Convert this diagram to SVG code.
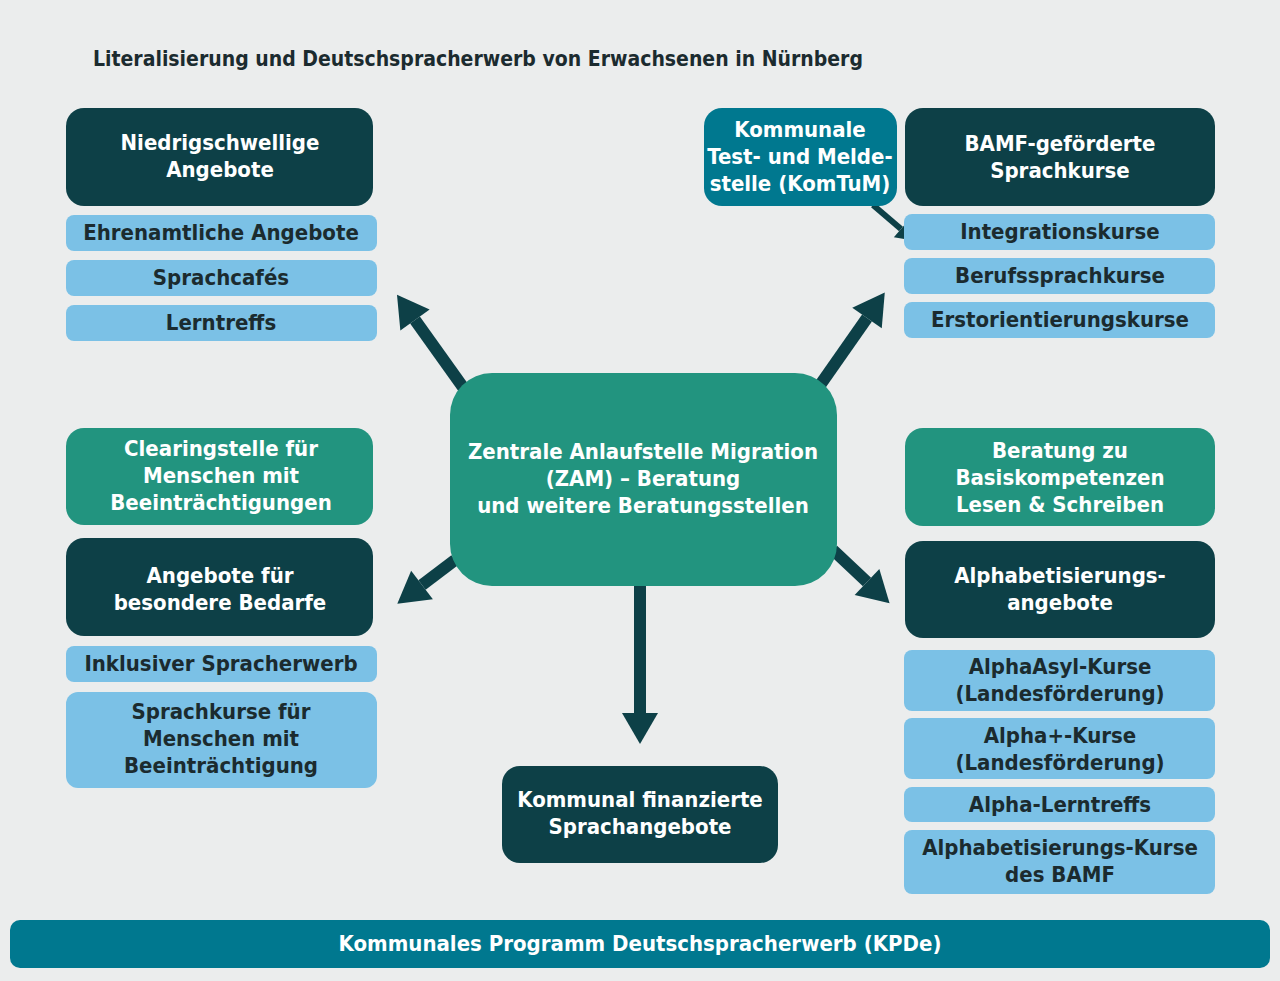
<svg xmlns="http://www.w3.org/2000/svg" width="1280" height="981" viewBox="0 0 1280 981">
<defs>
<marker id="ah" markerUnits="userSpaceOnUse" markerWidth="40" markerHeight="40" viewBox="0 -20 32 40" refX="0" refY="0" orient="auto"><path d="M0,-18 L31,0 L0,18 z" fill="#0d4047"/></marker>
<marker id="ahs" markerUnits="userSpaceOnUse" markerWidth="24" markerHeight="24" viewBox="0 -12 20 24" refX="0" refY="0" orient="auto"><path d="M0,-11 L18,0 L0,11 z" fill="#0d4047"/></marker>
</defs>
<style>
text{font-family:"DejaVu Sans Condensed","Liberation Sans",sans-serif;font-weight:bold;font-size:22px;text-anchor:middle;font-stretch:condensed}
.w{fill:#fff}.d{fill:#1b2b2f}
.dk{fill:#0d4047}.lb{fill:#7bc1e6}.gr{fill:#22947f}.tb{fill:#00788f}
.ar{stroke:#0d4047;stroke-width:12;fill:none}
</style>
<rect width="1280" height="981" fill="#ebeded"/>
<text x="93" y="66" class="d" style="text-anchor:start;font-size:21px">Literalisierung und Deutschspracherwerb von Erwachsenen in Nürnberg</text>
<g id="connectors">
<line class="ar" x1="465" y1="390" x2="415" y2="320" marker-end="url(#ah)"/>
<line class="ar" x1="818" y1="388" x2="867" y2="318" marker-end="url(#ah)"/>
<line class="ar" x1="455" y1="560" x2="422" y2="585" marker-end="url(#ah)"/>
<line class="ar" x1="833" y1="550" x2="867" y2="582" marker-end="url(#ah)"/>
<line class="ar" x1="640" y1="586" x2="640" y2="713" marker-end="url(#ah)"/>
<line class="ar" style="stroke-width:6" x1="873" y1="205" x2="901" y2="229" marker-end="url(#ahs)"/>
</g>
<g id="n1"><rect class="dk" x="66" y="108" width="307" height="98" rx="18"/><text class="w" x="220" y="150">Niedrigschwellige</text><text class="w" x="220" y="177">Angebote</text></g>
<g id="n2"><rect class="lb" x="66" y="215" width="311" height="36" rx="8"/><text class="d" x="221" y="240">Ehrenamtliche Angebote</text></g>
<g id="n3"><rect class="lb" x="66" y="260" width="311" height="36" rx="8"/><text class="d" x="221" y="285">Sprachcafés</text></g>
<g id="n4"><rect class="lb" x="66" y="305" width="311" height="36" rx="8"/><text class="d" x="221" y="330">Lerntreffs</text></g>
<g id="n5"><rect class="gr" x="66" y="428" width="307" height="97" rx="18"/><text class="w" x="221" y="456">Clearingstelle für</text><text class="w" x="221" y="483">Menschen mit</text><text class="w" x="221" y="510">Beeinträchtigungen</text></g>
<g id="n6"><rect class="dk" x="66" y="538" width="307" height="98" rx="18"/><text class="w" x="220" y="583">Angebote für</text><text class="w" x="220" y="610">besondere Bedarfe</text></g>
<g id="n7"><rect class="lb" x="66" y="646" width="311" height="36" rx="8"/><text class="d" x="221" y="671">Inklusiver Spracherwerb</text></g>
<g id="n8"><rect class="lb" x="66" y="692" width="311" height="96" rx="12"/><text class="d" x="221" y="719">Sprachkurse für</text><text class="d" x="221" y="746">Menschen mit</text><text class="d" x="221" y="773">Beeinträchtigung</text></g>
<g id="n9"><rect class="gr" x="450" y="373" width="387" height="213" rx="42"/><text class="w" x="643" y="459">Zentrale Anlaufstelle Migration</text><text class="w" x="643" y="486">(ZAM) – Beratung</text><text class="w" x="643" y="513">und weitere Beratungsstellen</text></g>
<g id="n10"><rect class="tb" x="704" y="108" width="193" height="98" rx="18"/><text class="w" x="800" y="137">Kommunale</text><text class="w" x="800" y="164">Test- und Melde-</text><text class="w" x="800" y="191">stelle (KomTuM)</text></g>
<g id="n11"><rect class="dk" x="905" y="108" width="310" height="98" rx="18"/><text class="w" x="1060" y="151">BAMF-geförderte</text><text class="w" x="1060" y="178">Sprachkurse</text></g>
<g id="n12"><rect class="lb" x="904" y="214" width="311" height="36" rx="8"/><text class="d" x="1060" y="239">Integrationskurse</text></g>
<g id="n13"><rect class="lb" x="904" y="258" width="311" height="36" rx="8"/><text class="d" x="1060" y="283">Berufssprachkurse</text></g>
<g id="n14"><rect class="lb" x="904" y="302" width="311" height="36" rx="8"/><text class="d" x="1060" y="327">Erstorientierungskurse</text></g>
<g id="n15"><rect class="gr" x="905" y="428" width="310" height="98" rx="18"/><text class="w" x="1060" y="458">Beratung zu</text><text class="w" x="1060" y="485">Basiskompetenzen</text><text class="w" x="1060" y="512">Lesen &amp; Schreiben</text></g>
<g id="n16"><rect class="dk" x="905" y="541" width="310" height="97" rx="18"/><text class="w" x="1060" y="583">Alphabetisierungs-</text><text class="w" x="1060" y="610">angebote</text></g>
<g id="n17"><rect class="lb" x="904" y="650" width="311" height="61" rx="8"/><text class="d" x="1060" y="674">AlphaAsyl-Kurse</text><text class="d" x="1060" y="701">(Landesförderung)</text></g>
<g id="n18"><rect class="lb" x="904" y="718" width="311" height="61" rx="8"/><text class="d" x="1060" y="743">Alpha+-Kurse</text><text class="d" x="1060" y="770">(Landesförderung)</text></g>
<g id="n19"><rect class="lb" x="904" y="787" width="311" height="35" rx="8"/><text class="d" x="1060" y="812">Alpha-Lerntreffs</text></g>
<g id="n20"><rect class="lb" x="904" y="830" width="311" height="64" rx="8"/><text class="d" x="1060" y="855">Alphabetisierungs-Kurse</text><text class="d" x="1060" y="882">des BAMF</text></g>
<g id="n21"><rect class="dk" x="502" y="766" width="276" height="97" rx="18"/><text class="w" x="640" y="807">Kommunal finanzierte</text><text class="w" x="640" y="834">Sprachangebote</text></g>
<g id="n22"><rect class="tb" x="10" y="920" width="1260" height="48" rx="10"/><text class="w" x="640" y="951">Kommunales Programm Deutschspracherwerb (KPDe)</text></g>
</svg>
